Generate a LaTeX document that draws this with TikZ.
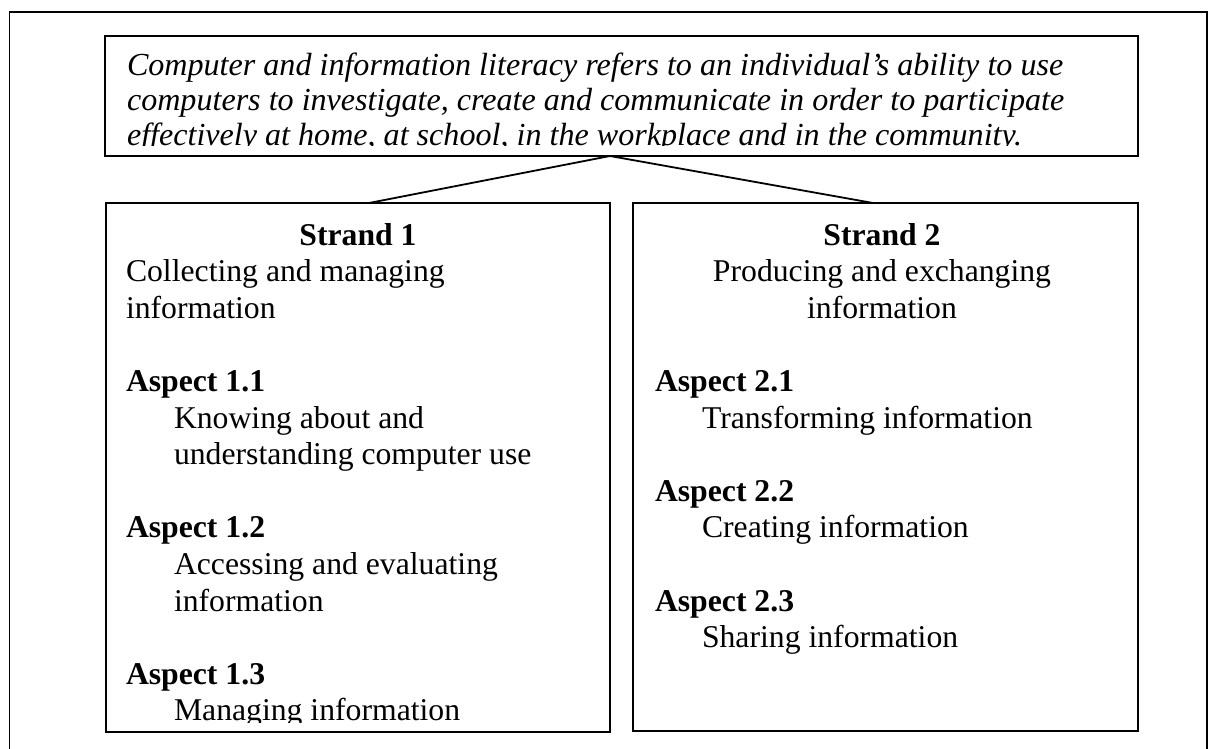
\documentclass[tikz,border=0pt]{standalone}
\usepackage{fontspec}
\setmainfont{Liberation Serif}
\tikzset{
  frame/.style={draw=black, line width=1.8pt, inner sep=0pt, outer sep=0pt, anchor=north west},
  conn/.style={draw=black, line width=1.8pt},
  txt/.style={font=\fontsize{31.7}{36.6}\selectfont, inner sep=0pt, outer sep=0pt, anchor=base west, text=black},
  ctr/.style={txt, anchor=base},
  bld/.style={txt, font=\fontsize{31.7}{36.6}\selectfont\bfseries},
  bldc/.style={bld, anchor=base},
  itl/.style={txt, font=\fontsize{32.1}{36.6}\selectfont\itshape}
}
\begin{document}
\begin{tikzpicture}[x=1pt,y=-1pt]
\useasboundingbox[fill=white] (0,0) rectangle (1210,749);
% outer frame (bottom edge outside the picture)
\draw[line width=1.8pt] (9.5,749) -- (9.5,12) -- (1207,12) -- (1207,749);

% boxes
\node[frame, minimum width=1033pt, minimum height=120pt] (top) at (105,36) {};
\node[frame, minimum width=504pt, minimum height=529pt] (s1) at (106,203) {};
\node[frame, minimum width=505pt, minimum height=528pt] (s2) at (633,203) {};

% connectors
\draw[conn] ([xshift=11pt]s1.north) -- ([xshift=-11.5pt]top.south) -- ([xshift=-12.5pt]s2.north);

% definition text (clipped by the text box)
\begin{scope}
\clip (106,37) rectangle (1137,146);
\node[itl] (d1) at (127,76) {Computer and information literacy refers to an individual’s ability to use};
\node[itl] (d2) at (127,111) {computers to investigate, create and communicate in order to participate};
\node[itl] (d3) at (127,146) {effectively at home, at school, in the workplace and in the community.};
\end{scope}

% strand 1
\begin{scope}
\clip (107,204) rectangle (609,722.5);
\node[bldc] (t1) at (358,245) {Strand 1};
\node[txt] (t1a) at (126,281.6) {Collecting and managing};
\node[txt] (t1b) at (126,318.2) {information};
\node[bld] (a11) at (126,391.4) {Aspect 1.1};
\node[txt] (a11a) at (174,428) {Knowing about and};
\node[txt] (a11b) at (174,464.6) {understanding computer use};
\node[bld] (a12) at (126,537.8) {Aspect 1.2};
\node[txt] (a12a) at (174,574.4) {Accessing and evaluating};
\node[txt] (a12b) at (174,611) {information};
\node[bld] (a13) at (126,684.2) {Aspect 1.3};
\node[txt] (a13a) at (174,720.8) {Managing information};
\end{scope}

% strand 2
\node[bldc] (t2) at (882,245) {Strand 2};
\node[ctr] (t2a) at (882,281.6) {Producing and exchanging};
\node[ctr] (t2b) at (882,318.2) {information};
\node[bld] (a21) at (655,391.4) {Aspect 2.1};
\node[txt] (a21a) at (702,428) {Transforming information};
\node[bld] (a22) at (655,501.2) {Aspect 2.2};
\node[txt] (a22a) at (702,537.8) {Creating information};
\node[bld] (a23) at (655,611) {Aspect 2.3};
\node[txt] (a23a) at (702,647.6) {Sharing information};
\end{tikzpicture}
\end{document}
